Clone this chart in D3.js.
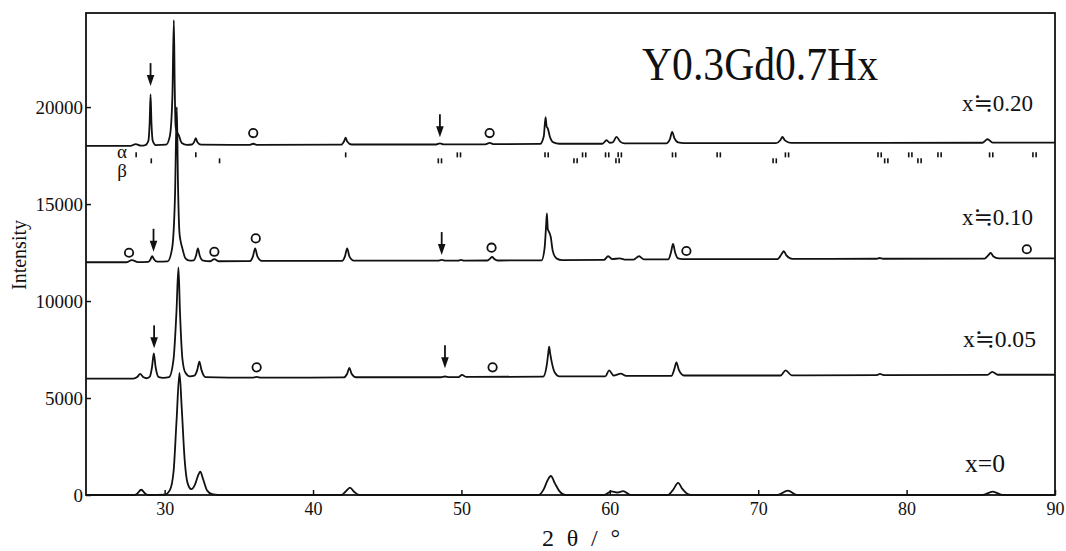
<!DOCTYPE html>
<html>
<head>
<meta charset="utf-8">
<script src="https://cdn.jsdelivr.net/npm/d3@7"></script>
<style>
  html, body { margin: 0; padding: 0; background: #fff; }
  svg { display: block; }
  svg text { font-family: "Liberation Serif", "Tinos", "Times New Roman", "DejaVu Serif", serif; fill: #111; }
</style>
</head>
<body>
<div id="chart"></div>
<script>
// Chart size
const width = 1066;
const height = 551;
const serif = "'Liberation Serif', 'Tinos', 'Times New Roman', 'DejaVu Serif', serif";

// Diffraction traces, [2theta, intensity] (offset already included)
const trace0 = [
  [24.7,0],[27.9,0],[28.15,70],[28.42,270],[28.7,70],[28.95,0],
  [30.0,20],[30.35,250],[30.6,1200],[30.8,3800],[31.0,6300],[31.15,4500],[31.35,1800],[31.55,600],[31.8,300],
  [32.05,550],[32.25,1000],[32.4,1200],[32.6,800],[32.85,250],[33.2,40],[33.6,0],
  [41.9,0],[42.2,180],[42.49,380],[42.75,180],[43.1,0],
  [55.2,0],[55.55,300],[55.8,750],[56.03,980],[56.3,600],[56.6,200],[57.0,0],
  [59.6,0],[60.1,190],[60.5,130],[60.9,200],[61.4,0],
  [63.9,0],[64.25,250],[64.6,630],[64.9,300],[65.3,30],[65.6,0],
  [71.3,0],[72.0,230],[72.6,0],
  [85.1,0],[85.8,170],[86.5,0],
  [90,0]
];

const trace005 = [
  [24.7,6000],[27.9,6000],[28.15,6080],[28.35,6240],[28.55,6080],[28.8,6020],
  [29.0,6100],[29.15,6600],[29.27,7300],[29.39,6600],[29.6,6080],[29.9,6040],
  [30.3,6080],[30.6,7000],[30.8,9500],[30.93,11740],[31.03,9500],[31.2,7000],[31.4,6300],[31.7,6120],
  [32.0,6150],[32.2,6450],[32.34,6870],[32.48,6450],[32.75,6080],
  [35.9,6050],[36.2,6090],[36.5,6050],
  [42.05,6060],[42.3,6250],[42.45,6550],[42.6,6250],[42.9,6070],
  [48.6,6070],[48.89,6110],[49.2,6080],
  [49.8,6080],[50.04,6190],[50.3,6090],
  [55.5,6100],[55.75,6700],[55.85,7300],[55.91,7650],[55.98,7300],[56.1,6800],[56.3,6300],[56.6,6120],
  [59.7,6120],[59.95,6430],[60.25,6160],[60.74,6260],[61.1,6140],
  [64.15,6140],[64.35,6500],[64.49,6840],[64.65,6450],[65.0,6160],
  [71.5,6160],[71.85,6430],[72.25,6170],
  [78.0,6180],[78.2,6240],[78.45,6180],
  [85.45,6190],[85.77,6350],[86.15,6200],
  [90,6200]
];

const trace010 = [
  [24.7,12000],[27.4,12000],[27.8,12110],[28.2,12010],
  [28.9,12020],[29.05,12150],[29.16,12320],[29.28,12150],[29.5,12030],
  [30.2,12050],[30.5,12700],[30.7,15500],[30.82,20000],[30.9,16000],[31.0,13500],[31.1,13000],[31.2,12700],[31.4,12200],[31.7,12080],
  [31.95,12100],[32.12,12350],[32.24,12720],[32.36,12350],[32.6,12080],
  [33.05,12050],[33.35,12160],[33.65,12050],
  [35.75,12060],[35.95,12300],[36.1,12720],[36.25,12300],[36.55,12070],
  [41.95,12070],[42.15,12300],[42.3,12720],[42.45,12300],[42.75,12080],
  [48.4,12080],[48.67,12120],[48.95,12080],
  [49.75,12080],[49.97,12120],[50.2,12080],
  [51.75,12090],[51.95,12200],[52.07,12280],[52.2,12180],[52.45,12090],
  [55.4,12100],[55.6,12700],[55.7,13800],[55.76,14520],[55.82,13700],[55.9,13570],[56.02,13300],[56.15,12600],[56.4,12200],[56.8,12110],
  [59.6,12120],[59.89,12310],[60.15,12160],[60.67,12200],[61.0,12140],
  [61.6,12140],[61.97,12310],[62.3,12150],
  [63.95,12150],[64.12,12500],[64.26,12940],[64.4,12500],[64.6,12200],[64.9,12160],
  [71.3,12160],[71.6,12450],[71.72,12570],[71.9,12350],[72.3,12170],
  [78.0,12180],[78.18,12220],[78.4,12180],
  [85.25,12190],[85.55,12400],[85.66,12480],[85.85,12300],[86.2,12200],
  [90,12200]
];

const trace020 = [
  [24.7,18000],[27.7,18000],[28.05,18090],[28.4,18010],
  [28.7,18040],[28.9,18250],[28.99,19200],[29.05,20650],[29.11,19200],[29.2,18250],[29.4,18040],
  [30.1,18060],[30.35,18500],[30.52,20500],[30.62,24480],[30.68,21000],[30.74,19000],[30.82,18750],[30.95,18550],[31.15,18150],[31.5,18050],
  [31.85,18070],[32.0,18220],[32.1,18400],[32.2,18200],[32.45,18060],
  [35.7,18050],[35.97,18110],[36.25,18050],
  [41.9,18060],[42.1,18250],[42.2,18420],[42.3,18230],[42.6,18070],
  [48.3,18070],[48.55,18130],[48.8,18080],
  [51.6,18080],[51.9,18150],[52.2,18090],
  [55.3,18100],[55.55,18500],[55.67,19480],[55.74,19000],[55.82,18900],[55.95,18500],[56.2,18180],[56.6,18110],
  [59.5,18110],[59.78,18290],[60.0,18160],[60.2,18180],[60.45,18460],[60.7,18220],[61.0,18130],
  [63.8,18130],[64.05,18350],[64.2,18720],[64.35,18400],[64.6,18180],[65.0,18140],
  [71.2,18140],[71.5,18300],[71.63,18460],[71.8,18280],[72.2,18150],
  [85.1,18160],[85.45,18340],[85.8,18170],
  [90,18170]
];

const traces = [trace0, trace005, trace010, trace020];
const seriesLabels = ["x=0", "x\u22520.05", "x\u22520.10", "x\u22520.20"];

// Marker positions: arrows [2theta, intensity at arrow tip], circles [2theta, intensity at centre]
const arrowMarks = [[29.05,21080],[48.55,18450],[29.25,12540],[48.67,12370],[29.29,7560],[48.89,6530]];
const circleMarks = [
  [35.97,18660],[51.9,18660],
  [27.6,12490],[33.35,12540],[36.14,13230],[52.03,12750],[65.16,12580],[88.1,12670],
  [36.2,6580],[52.1,6580]
];

// Reference reflection positions (2theta)
const alphaPeaks = [28.08,32.1,42.2,49.83,55.74,58.27,59.82,60.67,64.33,67.34,71.94,78.18,80.25,82.22,85.7,88.62];
const betaPeaks = [29.1,33.7,48.55,57.69,60.52,71.11,78.63,80.87];

// Axis ticks
const xTicks = [30, 40, 50, 60, 70, 80, 90];
const yTicks = [0, 5000, 10000, 15000, 20000];

const x = d3.scaleLinear().domain([24.7, 90]).range([86, 1055]);
const y = d3.scaleLinear().domain([0, 24850]).range([495, 13]);

const svg = d3.select("#chart")
  .append("svg")
  .attr("width", width)
  .attr("height", height)
  .attr("font-family", serif);

// Axes with inward ticks
svg.append("g")
  .attr("transform", `translate(0,${y(0)})`)
  .call(d3.axisBottom(x).tickValues(xTicks).tickSize(-5).tickPadding(7).tickFormat(d3.format("d")))
  .attr("font-family", serif)
  .call(g => g.select(".domain").remove())
  .call(g => g.selectAll("line").attr("stroke", "#111").attr("stroke-width", 1.5))
  .call(g => g.selectAll("text").attr("font-size", 18).attr("fill", "#111"));

svg.append("g")
  .attr("transform", `translate(${x(24.7)},0)`)
  .call(d3.axisLeft(y).tickValues(yTicks).tickSize(-5).tickPadding(3).tickFormat(d3.format("d")))
  .attr("font-family", serif)
  .call(g => g.select(".domain").remove())
  .call(g => g.selectAll("line").attr("stroke", "#111").attr("stroke-width", 1.5))
  .call(g => g.selectAll("text").attr("font-size", 19).attr("fill", "#111"));

// Frame
svg.append("rect")
  .attr("x", x(24.7))
  .attr("y", y(24850))
  .attr("width", x(90) - x(24.7))
  .attr("height", y(0) - y(24850))
  .attr("fill", "none")
  .attr("stroke", "#111")
  .attr("stroke-width", 1.8);

// Traces
const line = d3.line()
  .x(d => x(d[0]))
  .y(d => y(d[1]))
  .curve(d3.curveMonotoneX);

svg.append("g")
  .selectAll("path")
  .data(traces)
  .join("path")
    .attr("d", line)
    .attr("fill", "none")
    .attr("stroke", "#111")
    .attr("stroke-width", 1.8)
    .attr("stroke-linejoin", "round");

// Reference tick rows under the x=0.20 trace
const rowBase = y(18000);
function drawRow(vals, cy) {
  const g = svg.append("g").attr("stroke", "#111").attr("stroke-width", 1.6);
  vals.forEach(v => {
    const offs = v > 45 ? [-1.6, 1.6] : [0];
    offs.forEach(o => {
      g.append("line")
        .attr("x1", x(v) + o).attr("x2", x(v) + o)
        .attr("y1", cy - 2.5).attr("y2", cy + 2.5);
    });
  });
}
drawRow(alphaPeaks, rowBase + 9);
drawRow(betaPeaks, rowBase + 15);

svg.append("text").attr("x", 122).attr("y", 158).attr("text-anchor", "middle")
  .attr("font-size", 19).text("\u03b1");
svg.append("text").attr("x", 122).attr("y", 177).attr("text-anchor", "middle")
  .attr("font-size", 19).text("\u03b2");

// Arrows
const arrows = svg.append("g");
arrowMarks.forEach(([t, v]) => {
  const cx = x(t), tip = y(v);
  arrows.append("line")
    .attr("x1", cx).attr("x2", cx)
    .attr("y1", tip - 23).attr("y2", tip - 9)
    .attr("stroke", "#111").attr("stroke-width", 1.8);
  arrows.append("path")
    .attr("d", `M${cx - 3.8},${tip - 11}L${cx + 3.8},${tip - 11}L${cx},${tip}Z`)
    .attr("fill", "#111");
});

// Circles
svg.append("g")
  .selectAll("circle")
  .data(circleMarks)
  .join("circle")
    .attr("cx", d => x(d[0]))
    .attr("cy", d => y(d[1]))
    .attr("r", 4.2)
    .attr("fill", "none")
    .attr("stroke", "#111")
    .attr("stroke-width", 1.8);

// Series labels
const labelPos = [[965, 472, 26, 40], [963, 347, 24, 73], [962, 225, 24, 71], [962, 111, 24, 71]];
svg.append("g")
  .selectAll("text")
  .data(seriesLabels)
  .join("text")
    .attr("x", (d, i) => labelPos[i][0])
    .attr("y", (d, i) => labelPos[i][1])
    .attr("font-size", (d, i) => labelPos[i][2])
    .attr("textLength", (d, i) => labelPos[i][3])
    .attr("lengthAdjust", "spacingAndGlyphs")
    .text(d => d);

// Title
svg.append("text")
  .attr("x", 642).attr("y", 80)
  .attr("font-size", 46)
  .attr("textLength", 236)
  .attr("lengthAdjust", "spacingAndGlyphs")
  .text("Y0.3Gd0.7Hx");

// Axis titles
svg.append("text")
  .attr("x", 542).attr("y", 546)
  .attr("font-size", 24)
  .attr("textLength", 78)
  .attr("lengthAdjust", "spacing")
  .text("2 \u03b8 / \u00b0");

svg.append("text")
  .attr("transform", "translate(26,255) rotate(-90)")
  .attr("text-anchor", "middle")
  .attr("font-size", 20)
  .text("Intensity");
</script>
</body>
</html>
